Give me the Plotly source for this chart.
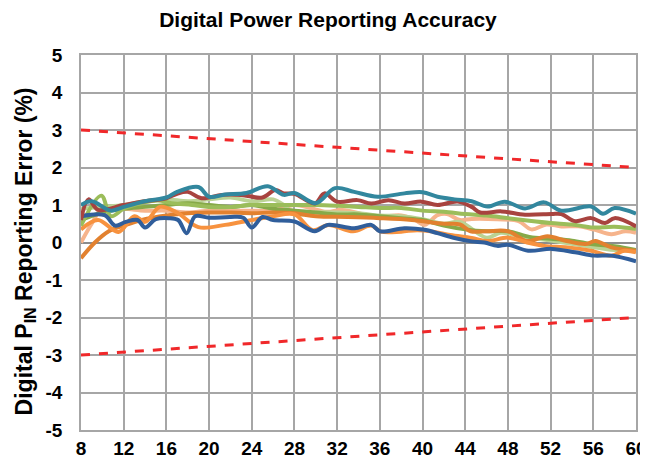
import plotly.graph_objects as go

title_text = "Digital Power Reporting Accuracy"
y_title = "Digital P<sub>IN</sub> Reporting Error (%)"

x_ticks = [8, 12, 16, 20, 24, 28, 32, 36, 40, 44, 48, 52, 56, 60]
y_ticks = [-5, -4, -3, -2, -1, 0, 1, 2, 3, 4, 5]

limit_x = [8, 60]
upper_limit = [3, 2]
lower_limit = [-3, -2]

blue_x = [8, 10.2, 11.2, 12.2, 13.3, 14, 15, 16.2, 17.1, 17.9, 18.7, 20, 22, 23.2, 24, 25, 26, 28, 29.9, 31.1, 33.6, 35.2, 36, 38.3, 40.2, 41.4, 43, 44.6, 45.8, 47, 48, 49.9, 52.1, 54.3, 56.1, 57.7, 60]
blue_y = [0.7, 0.73, 0.45, 0.55, 0.6, 0.4, 0.62, 0.65, 0.6, 0.25, 0.7, 0.66, 0.68, 0.66, 0.4, 0.68, 0.6, 0.56, 0.3, 0.47, 0.38, 0.47, 0.3, 0.38, 0.34, 0.25, 0.12, 0.03, 0.0, -0.09, -0.06, -0.22, -0.17, -0.26, -0.35, -0.35, -0.5]

teal_x = [8, 9, 10.8, 12, 14, 16, 17, 19, 20, 21.5, 23.5, 25.5, 27, 28, 30, 31.8, 33.6, 35.8, 38.3, 40, 41.4, 43, 44.6, 46.1, 47.7, 49.6, 51.4, 53, 55.8, 56.9, 58, 60]
teal_y = [1.0, 1.1, 0.85, 0.95, 1.1, 1.2, 1.35, 1.48, 1.22, 1.28, 1.32, 1.5, 1.27, 1.32, 1.05, 1.45, 1.35, 1.22, 1.31, 1.34, 1.22, 1.15, 1.1, 0.96, 1.09, 0.91, 1.07, 0.85, 0.96, 0.77, 0.92, 0.77]

red_x = [8, 8.7, 9.6, 12, 14, 16, 17, 18, 19.3, 21.2, 23, 25, 26.2, 27, 28, 29.9, 30.8, 32, 33.9, 35.2, 36.8, 38.3, 39.9, 41.4, 43.3, 44.6, 45.4, 47.4, 49.6, 52.1, 53, 54.3, 55.8, 57.1, 58, 60]
red_y = [0.6, 1.15, 0.87, 1.0, 1.1, 1.18, 1.3, 1.35, 1.18, 1.27, 1.27, 1.2, 1.4, 1.31, 1.3, 1.04, 1.31, 1.09, 1.13, 1.04, 1.13, 1.04, 1.09, 1.0, 1.09, 0.95, 0.8, 0.83, 0.74, 0.76, 0.76, 0.57, 0.65, 0.52, 0.65, 0.43]

green_x = [8, 9.9, 10.8, 12, 13.7, 15.2, 16.5, 18.4, 20, 22, 24, 26, 28, 30, 32, 34, 36, 38, 40, 42, 44, 46, 48, 50, 52, 54, 56, 58, 60]
green_y = [0.45, 1.25, 0.7, 0.9, 1.05, 1.12, 1.05, 1.0, 0.95, 0.95, 1.0, 1.0, 1.0, 1.0, 0.98, 0.95, 0.92, 0.92, 0.85, 0.82, 0.76, 0.72, 0.65, 0.58, 0.52, 0.48, 0.4, 0.42, 0.36]

olive_x = [8, 10, 12, 14, 16, 18, 20, 22, 24, 26, 28, 30, 32, 34, 36, 38, 40, 42, 44, 46, 48, 50, 52, 54, 56, 58, 60]
olive_y = [0.6, 0.8, 0.9, 0.95, 1.0, 1.05, 1.0, 0.95, 1.0, 0.9, 0.85, 0.8, 0.75, 0.75, 0.7, 0.65, 0.6, 0.45, 0.35, 0.3, 0.3, 0.15, 0.1, 0.05, -0.05, -0.1, -0.2]

lgreen_x = [8, 10, 12, 14, 16, 18, 20, 22, 24, 26, 27, 28, 30, 32, 34, 36, 38, 40, 42, 43.5, 46, 47.3, 49, 52, 55, 58, 60]
lgreen_y = [0.9, 0.95, 1.0, 1.1, 1.15, 1.1, 1.15, 1.2, 1.1, 1.15, 1.0, 0.75, 0.8, 0.8, 0.78, 0.72, 0.7, 0.62, 0.5, 0.55, 0.13, 0.26, 0.18, 0.05, -0.08, -0.2, -0.22]

peach_x = [8, 9, 10, 12, 14, 16, 18, 20, 22, 24, 26, 28, 29.5, 31, 32.5, 34.5, 36, 38, 39.3, 40.2, 41.4, 42.3, 43.5, 44.6, 47, 49, 50.2, 51.6, 53, 54.6, 56, 57.7, 59, 60]
peach_y = [0.0, 0.5, 0.9, 0.9, 0.85, 0.85, 0.8, 0.85, 0.85, 0.85, 0.85, 1.0, 0.92, 0.82, 0.87, 0.75, 0.69, 0.72, 0.6, 0.47, 0.73, 0.76, 0.6, 0.63, 0.62, 0.57, 0.35, 0.48, 0.43, 0.43, 0.35, 0.22, 0.3, 0.26]

orange_x = [8, 9.6, 11.5, 13, 14, 15.4, 17, 19, 21.5, 24, 26, 28, 29.7, 31.2, 33.5, 35.2, 36.1, 38, 39.5, 41, 42.6, 44.6, 46.1, 48, 49.8, 51.4, 53.6, 55.8, 57.7, 58.9, 60]
orange_y = [0.35, 0.6, 0.28, 0.7, 0.55, 0.95, 0.8, 0.41, 0.47, 0.6, 0.7, 0.75, 0.33, 0.47, 0.3, 0.45, 0.29, 0.29, 0.33, 0.29, 0.2, 0.12, 0.04, 0.13, 0.0, -0.09, -0.13, -0.22, -0.35, -0.22, -0.26]

dorange_x = [8, 9.3, 10.6, 12, 13.7, 16, 18, 20, 22, 24, 26, 28, 30, 33, 36, 39, 42, 43.5, 44.5, 46, 48, 49.8, 51.7, 53.5, 55.3, 56.2, 57.7, 60]
dorange_y = [-0.42, 0.0, 0.3, 0.45, 0.6, 0.72, 0.78, 0.8, 0.8, 0.78, 0.8, 0.78, 0.7, 0.68, 0.65, 0.6, 0.5, 0.48, 0.3, 0.3, 0.3, 0.04, 0.17, 0.04, -0.04, 0.04, -0.13, -0.22]

series = [
    (peach_x, peach_y, "#F6B48C"),
    (lgreen_x, lgreen_y, "#BBD394"),
    (olive_x, olive_y, "#86A948"),
    (dorange_x, dorange_y, "#E2812F"),
    (orange_x, orange_y, "#F7923F"),
    (green_x, green_y, "#9BBD5A"),
    (blue_x, blue_y, "#305E9B"),
    (red_x, red_y, "#A8433F"),
    (teal_x, teal_y, "#32879E"),
]

fig = go.Figure()
for xs, ys, col in series:
    fig.add_trace(go.Scatter(x=xs, y=ys, mode="lines",
                             line=dict(color=col, width=4, shape="spline", smoothing=1.0),
                             showlegend=False, hoverinfo="skip"))

for lim in (upper_limit, lower_limit):
    fig.add_trace(go.Scatter(x=limit_x, y=lim, mode="lines",
                             line=dict(color="#F0282A", width=3, dash="dash"),
                             showlegend=False, hoverinfo="skip"))

font_fam = "Liberation Sans, Arial, sans-serif"
grid_col = "#A6A6A6"
# page has an 8px body margin, so the figure is sized/offset to compensate
fig.update_layout(
    width=640, height=454,
    margin=dict(l=73, r=12, t=47, b=32),
    paper_bgcolor="white", plot_bgcolor="white",
    font=dict(family=font_fam, color="black"),
    title=dict(text="<b>" + title_text + "</b>", x=0.5, xanchor="center",
               y=0.974, yanchor="middle", font=dict(size=21)),
    annotations=[dict(text="<b>" + y_title + "</b>", textangle=-90,
                      xref="paper", yref="paper", x=-0.1, y=0.475,
                      xanchor="center", yanchor="middle", showarrow=False,
                      font=dict(size=23, color="black"))],
)
fig.update_xaxes(range=[8, 60], tickvals=x_ticks, ticktext=[f"<b>{v}</b>" for v in x_ticks],
                 automargin=False,
                 showgrid=True, gridcolor=grid_col, gridwidth=1.5,
                 showline=True, linecolor=grid_col, linewidth=1.5, mirror=True,
                 zeroline=False, tickfont=dict(size=19), ticks="",
                 ticklabelstandoff=0)
fig.update_yaxes(range=[-5, 5], tickvals=y_ticks, ticktext=[f"<b>{v}</b>" for v in y_ticks],
                 automargin=False,
                 showgrid=True, gridcolor=grid_col, gridwidth=1.5,
                 showline=True, linecolor=grid_col, linewidth=1.5, mirror=True,
                 zeroline=True, zerolinecolor="#8C8C8C", zerolinewidth=2,
                 tickfont=dict(size=19), ticks="", ticklabelstandoff=13)

fig.write_html("out.html")
